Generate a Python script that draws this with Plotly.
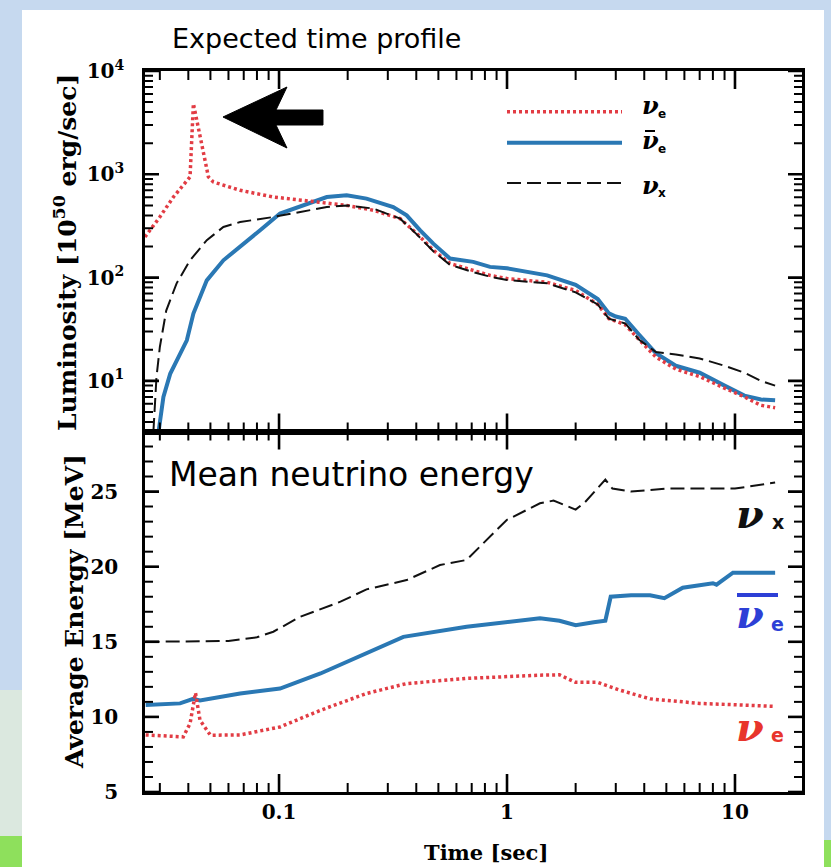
import plotly.graph_objects as go

# ---------------- data ----------------
# Luminosity [10^50 erg/s] vs time [s]
lum_t_nue = [0.0258, 0.030, 0.0344, 0.0407, 0.0421, 0.0458, 0.049, 0.0515, 0.0675, 0.0944,
             0.124, 0.162, 0.198, 0.259, 0.34, 0.402, 0.475, 0.562, 0.711, 0.842,
             1.0, 1.5, 2.0, 2.5, 2.8, 3.3, 3.8, 4.5, 5.5, 7.0, 9.0, 11.0, 13.0, 15.0]
lum_nue = [247, 386, 603, 942, 4830, 1982, 942, 842, 700, 603,
           560, 520, 500, 449, 372, 267, 184, 137, 117, 105,
           98, 90, 75, 55, 40, 35, 25, 17, 13, 11, 8.5, 7.0, 5.8, 5.5]

lum_t_anue = [0.0296, 0.0311, 0.0333, 0.0368, 0.0394, 0.0421, 0.0482, 0.057, 0.0675, 0.0826,
              0.101, 0.132, 0.162, 0.198, 0.242, 0.317, 0.363, 0.416, 0.475, 0.562,
              0.711, 0.842, 1.0, 1.5, 2.0, 2.5, 2.8, 3.0, 3.3, 3.8, 4.5, 5.5, 7.0, 9.0, 11.0, 13.0, 15.0]
lum_anue = [3.2, 6.98, 11.7, 18.4, 24.7, 44.8, 94, 147, 198, 287,
            417, 520, 603, 626, 582, 482, 401, 287, 213, 153,
            142, 127, 123, 105, 85, 62, 45, 42, 40, 28, 18.5, 14, 12, 9, 7.2, 6.6, 6.5]

lum_t_nux = [0.0281, 0.029, 0.030, 0.032, 0.0355, 0.0407, 0.0482, 0.057, 0.0675, 0.0944,
             0.124, 0.162, 0.198, 0.259, 0.34, 0.402, 0.475, 0.562, 0.711, 0.842,
             1.0, 1.5, 2.0, 2.5, 2.8, 3.3, 3.8, 4.5, 5.5, 7.0, 9.0, 11.0, 13.0, 15.0]
lum_nux = [3.2, 10.9, 21.3, 48, 87.5, 147, 230, 309, 345, 386,
           432, 482, 500, 466, 372, 262, 180, 133, 113, 102,
           95, 88, 72, 55, 40, 36, 25, 19, 18, 16.5, 14, 12, 10, 9]

# Mean energy [MeV] vs time [s]
en_t_nue = [0.026, 0.038, 0.0407, 0.043, 0.045, 0.05, 0.0675, 0.101, 0.152, 0.242,
            0.363, 0.665, 1.395, 1.7, 2.0, 2.5, 3.1, 4.24, 7.0, 15.0]
en_nue = [8.8, 8.67, 9.56, 11.6, 9.78, 8.78, 8.8, 9.33, 10.44, 11.56,
          12.22, 12.56, 12.78, 12.8, 12.3, 12.3, 11.8, 11.2, 10.9, 10.7]

en_t_anue = [0.026, 0.0368, 0.042, 0.045, 0.0675, 0.101, 0.152, 0.242, 0.317, 0.351,
             0.665, 1.0, 1.395, 1.7, 2.0, 2.4, 2.7, 2.85, 3.5, 4.24,
             4.9, 5.9, 8.0, 8.3, 9.8, 15.0]
en_anue = [10.8, 10.9, 11.2, 11.1, 11.56, 11.89, 12.89, 14.22, 15.0, 15.33,
           16.0, 16.3, 16.56, 16.4, 16.1, 16.3, 16.4, 18.0, 18.1, 18.1,
           17.9, 18.6, 18.9, 18.8, 19.6, 19.6]

en_t_nux = [0.026, 0.06, 0.08, 0.0944, 0.124, 0.186, 0.242, 0.363, 0.508, 0.665,
            0.787, 0.997, 1.395, 1.6, 2.0, 2.2, 2.7, 2.9, 3.5, 5.0, 7.0, 10.0, 15.0]
en_nux = [15.0, 15.05, 15.3, 15.67, 16.67, 17.67, 18.49, 19.11, 20.11, 20.45,
          21.56, 23.11, 24.22, 24.4, 23.8, 24.3, 25.8, 25.2, 25.0, 25.2, 25.2, 25.2, 25.6]

# tick labels
x_tickvals = [0.1, 1, 10]
x_ticktext = ["0.1", "1", "10"]
lum_tickvals = [10, 100, 1000, 10000]
lum_ticktext = ["10<sup>1</sup>", "10<sup>2</sup>", "10<sup>3</sup>", "10<sup>4</sup>"]
en_tickvals = [5, 10, 15, 20, 25]
en_ticktext = ["5", "10", "15", "20", "25"]

# minor tick positions (2..9 within each decade, 1-MeV steps)
x_minor = [k * 10.0 ** d for d in (-2, -1, 0, 1) for k in range(2, 10)]
lum_minor = [k * 10.0 ** d for d in (0, 1, 2, 3) for k in range(2, 10)]
en_minor = [v for v in range(6, 29) if v % 5 != 0]

# ---------------- styling ----------------
RED = "#e23c44"
BLUE = "#2a78b4"
BLACK = "#111111"
SLIDE = "#c6d9ef"

W, H = 831, 867
L, R, T, B = 145, 802, 71, 792
PW, PH = R - L, B - T

xrange = [-1.588, 1.294]
lrange = [0.51, 4]
erange = [5, 29]


def px(x):
    return (x - L) / PW


def py(y):
    return (B - y) / PH


fig = go.Figure()

styles = {
    "anue": dict(color=BLUE, width=4),
    "nue": dict(color=RED, width=3.5, dash="3px,3px"),
    "nux": dict(color=BLACK, width=2, dash="14px,6px"),
}

fig.add_trace(go.Scatter(x=lum_t_anue, y=lum_anue, mode="lines", line=styles["anue"],
                         xaxis="x", yaxis="y", showlegend=False))
fig.add_trace(go.Scatter(x=lum_t_nue, y=lum_nue, mode="lines", line=styles["nue"],
                         xaxis="x", yaxis="y", showlegend=False))
fig.add_trace(go.Scatter(x=lum_t_nux, y=lum_nux, mode="lines", line=styles["nux"],
                         xaxis="x", yaxis="y", showlegend=False))

fig.add_trace(go.Scatter(x=en_t_anue, y=en_anue, mode="lines", line=styles["anue"],
                         xaxis="x2", yaxis="y2", showlegend=False))
fig.add_trace(go.Scatter(x=en_t_nue, y=en_nue, mode="lines", line=styles["nue"],
                         xaxis="x2", yaxis="y2", showlegend=False))
fig.add_trace(go.Scatter(x=en_t_nux, y=en_nux, mode="lines", line=styles["nux"],
                         xaxis="x2", yaxis="y2", showlegend=False))

tickfont = dict(family="DejaVu Serif", size=20, color="black", weight="bold")

base = dict(showline=True, linewidth=2.5, linecolor="black", mirror=True,
            ticks="inside", ticklen=12, tickwidth=2, tickcolor="black",
            showgrid=False, zeroline=False)

fig.update_layout(
    width=W, height=H,
    margin=dict(l=L, r=W - R, t=T, b=H - B, pad=0),
    paper_bgcolor="white",
    plot_bgcolor="white",
    xaxis=dict(base, domain=[0, 1], anchor="y", type="log", range=xrange,
               tickmode="array", tickvals=x_tickvals, showticklabels=False),
    xaxis2=dict(base, domain=[0, 1], anchor="y2", type="log", range=xrange,
                tickmode="array", tickvals=x_tickvals, ticktext=x_ticktext, tickfont=tickfont),
    yaxis=dict(base, domain=[0.5, 1], anchor="x", type="log", range=lrange,
               tickmode="array", tickvals=lum_tickvals,
               ticktext=[t + "\u2002\u2009" for t in lum_ticktext], tickfont=tickfont),
    yaxis2=dict(base, domain=[0, 0.5], anchor="x2", range=erange,
                tickmode="array", tickvals=en_tickvals,
                ticktext=[t + "\u2002\u2002" for t in en_ticktext], tickfont=tickfont),
)

shapes = []


# ---- tick marks on all four sides of both panels (data position, paper extent) ----
def xticks(vals, xref, dom, length, width):
    for v in vals:
        for edge, sgn in ((dom[0], 1), (dom[1], -1)):
            shapes.append(dict(type="line", xref=xref, yref="paper", x0=v, x1=v,
                               y0=edge, y1=edge + sgn * length / PH,
                               line=dict(color="black", width=width)))


def yticks(vals, yref, length, width):
    for v in vals:
        for edge, sgn in ((0.0, 1), (1.0, -1)):
            shapes.append(dict(type="line", yref=yref, xref="paper", y0=v, y1=v,
                               x0=edge, x1=edge + sgn * length / PW,
                               line=dict(color="black", width=width)))


xmin_v, xmax_v = 10 ** xrange[0], 10 ** xrange[1]
xm = [v for v in x_minor if xmin_v < v < xmax_v]
lm = [v for v in lum_minor if 10 ** lrange[0] < v < 10 ** lrange[1]]
for xr, dom in (("x", (0.5, 1.0)), ("x2", (0.0, 0.5))):
    xticks(x_tickvals, xr, dom, 18, 2.6)
    xticks(xm, xr, dom, 9, 2)
yticks(lum_tickvals, "y", 14, 2.6)
yticks(lm, "y", 8, 2)
yticks(en_tickvals, "y2", 14, 2.6)
yticks(en_minor, "y2", 8, 2)

# slide background strips around the white panel (outside the plot area)
strips = [
    (-2, W + 2, -2, 10, SLIDE),       # top strip
    (-2, 22, 10, 690, SLIDE),         # left strip
    (-2, 22, 690, 836, "#dbe8df"),    # left strip, lighter lower part
    (-2, 22, 836, H + 2, "#8ee05c"),  # green footer left
    (824, W + 2, 10, 840, SLIDE),     # right strip
    (824, W + 2, 840, H + 2, "#8ee05c"),
]
for x0, x1, y0, y1, col in strips:
    shapes.append(dict(type="rect", xref="paper", yref="paper",
                       x0=px(x0), x1=px(x1), y0=py(y1), y1=py(y0),
                       fillcolor=col, line=dict(width=0)))

# arrow pointing to the neutronization burst
pts = [(223, 117), (287, 87), (276, 110), (323, 110), (323, 125), (276, 125), (287, 148)]
path = "M " + " L ".join(f"{px(a):.4f},{py(b):.4f}" for a, b in pts) + " Z"
shapes.append(dict(type="path", xref="paper", yref="paper", path=path,
                   fillcolor="black", line=dict(color="black", width=1)))

# legend samples
leg = [(111.7, styles["nue"]), (142.7, styles["anue"]), (183.0, styles["nux"])]
for yy, st in leg:
    shapes.append(dict(type="line", xref="paper", yref="paper",
                       x0=px(507), x1=px(622), y0=py(yy), y1=py(yy),
                       line=dict(color=st["color"], width=st["width"], dash=st.get("dash", "solid"))))
# bar of anti-neutrino in legend
shapes.append(dict(type="line", xref="paper", yref="paper",
                   x0=px(645), x1=px(655), y0=py(131), y1=py(131),
                   line=dict(color="black", width=2)))
# overline of anti-neutrino label on the right
shapes.append(dict(type="line", xref="paper", yref="paper",
                   x0=px(737), x1=px(778), y0=py(595), y1=py(595),
                   line=dict(color="#2d3fd6", width=4)))
fig.update_layout(shapes=shapes)

ann = []


def add_text(x, y, text, size, family="DejaVu Sans", color="black", xanchor="center",
             yanchor="middle", angle=0, weight="normal", style="normal"):
    ann.append(dict(xref="paper", yref="paper", x=px(x), y=py(y), text=text,
                    showarrow=False, xanchor=xanchor, yanchor=yanchor, textangle=angle,
                    font=dict(family=family, size=size, color=color, weight=weight, style=style)))


add_text(316, 38, "Expected time profile", 27)
add_text(167, 474, "Mean neutrino energy", 33, xanchor="left")
add_text(65, 253, "Luminosity [10<sup>50</sup> erg/sec]", 25, family="DejaVu Serif",
         angle=-90, weight="bold")
add_text(74, 612, "Average Energy [MeV]", 25, family="DejaVu Serif", angle=-90, weight="bold")
add_text(486, 852, "Time [sec]", 21, family="DejaVu Serif", weight="bold")

# legend labels
for yy, sub in [(106, "e"), (141, "e"), (185, "x")]:
    add_text(650, yy, "ν", 24, family="DejaVu Serif", weight="bold", style="italic")
    add_text(662, yy + 8, sub, 12, family="DejaVu Sans", weight="bold")

# right-hand labels in energy panel
add_text(750, 513, "ν", 40, family="DejaVu Serif", weight="bold", style="italic", color="#111111")
add_text(778, 522, "x", 19, family="DejaVu Sans", weight="bold", color="#111111")
add_text(750, 613, "ν", 40, family="DejaVu Serif", weight="bold", style="italic", color="#2d3fd6")
add_text(777, 624, "e", 19, family="DejaVu Sans", weight="bold", color="#2d3fd6")
add_text(750, 726, "ν", 40, family="DejaVu Serif", weight="bold", style="italic", color="#e8352c")
add_text(777, 735, "e", 19, family="DejaVu Sans", weight="bold", color="#e8352c")

fig.update_layout(annotations=ann)

fig.write_html(
    "out.html",
    config={"displayModeBar": False},
    post_script="document.body.style.margin='0';document.body.style.overflow='hidden';",
)
